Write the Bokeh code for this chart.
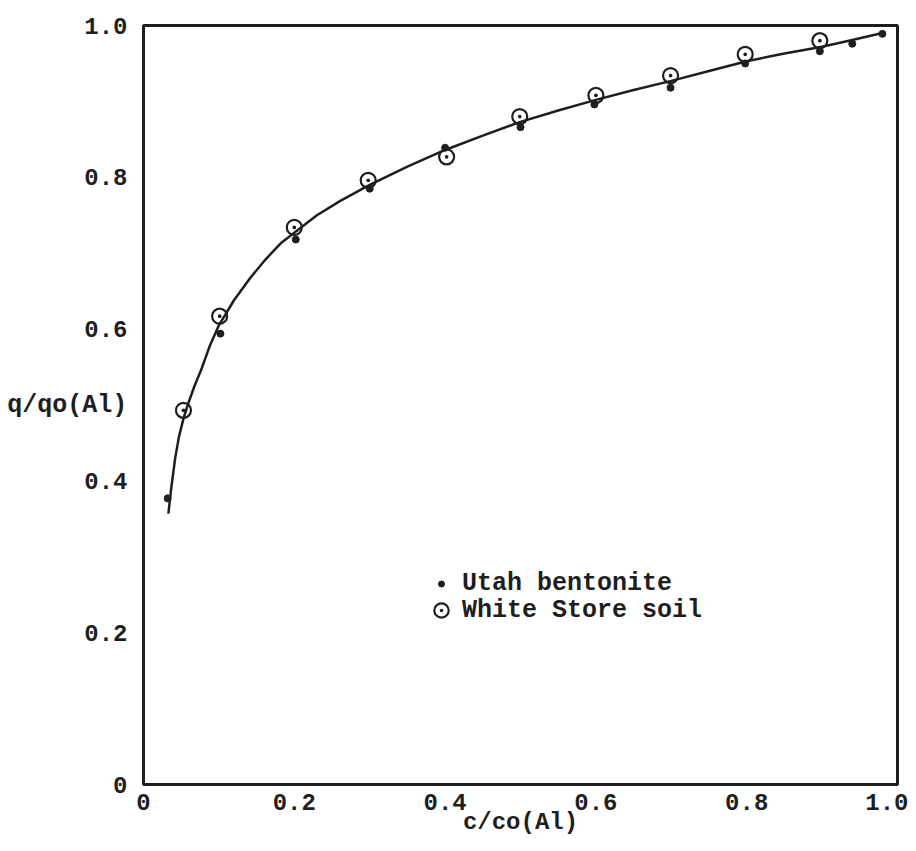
from bokeh.plotting import figure
from bokeh.models import Range1d, Legend, LegendItem, FixedTicker
from bokeh.embed import file_html
from bokeh.resources import INLINE

# ---- data ----
utah_x = [0.032, 0.102, 0.202, 0.300, 0.400, 0.500, 0.598, 0.699, 0.798, 0.897, 0.940, 0.980]
utah_y = [0.377, 0.594, 0.718, 0.785, 0.839, 0.866, 0.896, 0.918, 0.950, 0.966, 0.976, 0.989]

white_x = [0.053, 0.101, 0.200, 0.298, 0.402, 0.499, 0.600, 0.699, 0.798, 0.897]
white_y = [0.493, 0.617, 0.734, 0.796, 0.827, 0.880, 0.908, 0.934, 0.962, 0.980]

curve_x = [0.033, 0.037, 0.042, 0.047, 0.053, 0.060, 0.068, 0.076, 0.088, 0.100,
           0.120, 0.142, 0.162, 0.182, 0.200, 0.230, 0.261, 0.300, 0.350, 0.400,
           0.450, 0.500, 0.550, 0.600, 0.650, 0.700, 0.750, 0.800, 0.850, 0.900,
           0.940, 0.980]
curve_y = [0.357, 0.392, 0.430, 0.458, 0.482, 0.504, 0.526, 0.545, 0.578, 0.605,
           0.638, 0.668, 0.692, 0.713, 0.727, 0.750, 0.769, 0.790, 0.814, 0.836,
           0.855, 0.873, 0.888, 0.902, 0.915, 0.927, 0.940, 0.953, 0.963, 0.972,
           0.981, 0.990]

tick_values = [0, 0.2, 0.4, 0.6, 0.8, 1.0]
tick_labels = ["0", "0.2", "0.4", "0.6", "0.8", "1.0"]
series_names = ["Utah bentonite", "White Store soil"]
x_title = "c/co(Al)"
y_title = "q/qo(Al)"

FONT = "Liberation Mono"
INK = "#1e1e1e"

p = figure(width=908, height=843, output_backend="svg", toolbar_location=None,
           x_range=Range1d(0, 1.0), y_range=Range1d(0, 1.0),
           min_border_left=143, min_border_right=11, min_border_top=25,
           min_border_bottom=59)
p.background_fill_color = "white"
p.border_fill_color = "white"
p.outline_line_color = INK
p.outline_line_width = 3
p.xgrid.visible = False
p.ygrid.visible = False

for ax in (p.xaxis[0], p.yaxis[0]):
    ax.ticker = FixedTicker(ticks=tick_values)
    ax.major_label_overrides = {v: s for v, s in zip(tick_values, tick_labels)}
    ax.axis_line_color = None
    ax.major_tick_line_color = None
    ax.minor_tick_line_color = None
    ax.major_label_text_font = FONT
    ax.major_label_text_font_style = "bold"
    ax.major_label_text_font_size = "24px"
    ax.major_label_text_color = INK
    ax.axis_label_text_font = FONT
    ax.axis_label_text_font_style = "bold"
    ax.axis_label_text_color = INK
p.xaxis.major_label_standoff = 3
p.yaxis.major_label_standoff = 10

p.xaxis.axis_label = x_title
p.xaxis.axis_label_text_font_size = "24px"
p.xaxis.axis_label_standoff = -4
p.yaxis.axis_label = y_title
p.yaxis.axis_label_text_font_size = "25px"
p.yaxis.axis_label_orientation = "horizontal"
p.yaxis.axis_label_standoff = -46

p.line(curve_x, curve_y, line_color=INK, line_width=2.5)
r_utah = p.scatter(utah_x, utah_y, marker="circle", size=7, fill_color=INK, line_color=INK)
r_white = p.scatter(white_x, white_y, marker="circle_dot", size=15, fill_color=None,
                    line_color=INK, line_width=2.2)

leg_style = dict(padding=0, margin=0, spacing=0, glyph_width=36, label_standoff=3,
                 background_fill_alpha=0, border_line_color=None,
                 label_text_font=FONT, label_text_font_style="bold",
                 label_text_font_size="25px", label_text_color=INK)
legend_utah = Legend(items=[LegendItem(label=series_names[0], renderers=[r_utah])],
                     location=(280, 186), glyph_height=15, **leg_style)
legend_white = Legend(items=[LegendItem(label=series_names[1], renderers=[r_white])],
                      location=(280, 156), glyph_height=36, **leg_style)
p.add_layout(legend_utah, "center")
p.add_layout(legend_white, "center")

open("out.html", "w").write(file_html(p, INLINE))
